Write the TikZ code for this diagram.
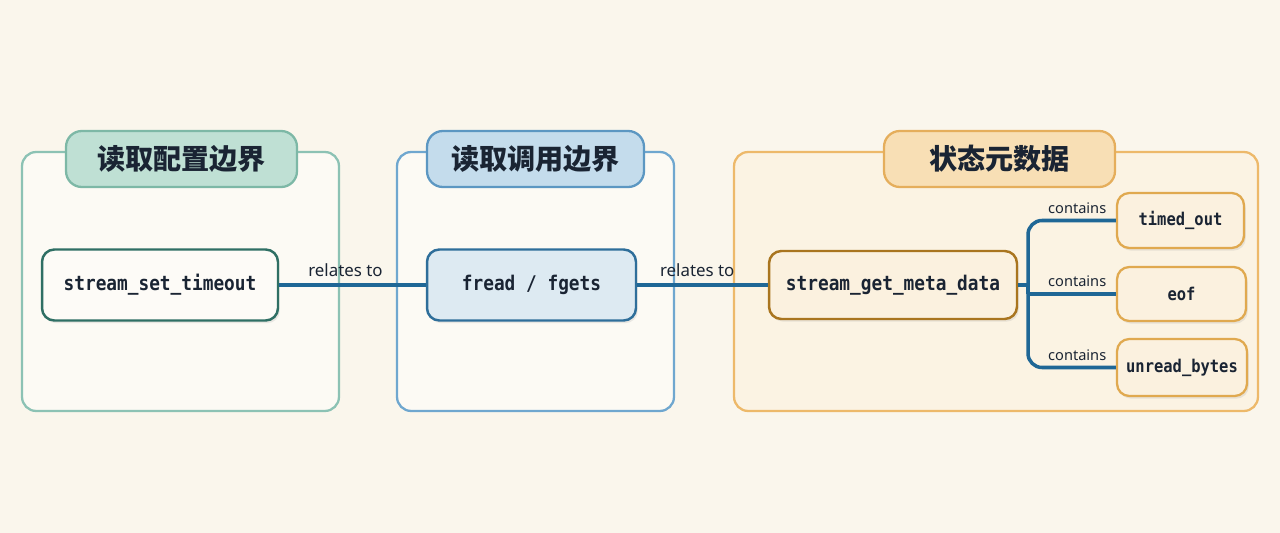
\documentclass[tikz,border=0pt]{standalone}
\usepackage{fontspec}
\setmainfont{Noto Sans}
\setmonofont{DejaVu Sans Mono}[FakeStretch=0.88]
\newfontfamily\cjk{Noto Sans CJK SC}
\usetikzlibrary{positioning, calc, shadows}

\definecolor{bgcream}{HTML}{FAF6EC}
\definecolor{inkdark}{HTML}{1A2433}
\definecolor{linkblue}{HTML}{1F6796}
\definecolor{tealframe}{HTML}{8CC2B4}
\definecolor{tealtab}{HTML}{BFE0D4}
\definecolor{tealtabline}{HTML}{7DB8A6}
\definecolor{tealnode}{HTML}{2F6F64}
\definecolor{blueframe}{HTML}{6FA7CF}
\definecolor{bluetab}{HTML}{C4DCEC}
\definecolor{bluetabline}{HTML}{5C97C2}
\definecolor{bluenode}{HTML}{2E6E9A}
\definecolor{bluefill}{HTML}{DDEAF2}
\definecolor{orangeframe}{HTML}{EDB96A}
\definecolor{orangetab}{HTML}{F8DFB5}
\definecolor{orangetabline}{HTML}{E5AE5C}
\definecolor{orangenode}{HTML}{A9751F}
\definecolor{orangefill}{HTML}{FBF1DF}
\definecolor{orangechild}{HTML}{E0A94F}

\begin{document}
\begin{tikzpicture}[
  x=0.02cm, y=-0.02cm,
  every node/.style={text=inkdark},
  frame/.style={draw, rounded corners=8pt, line width=1.3pt, minimum height=5.18cm},
  tab/.style={draw, rounded corners=9pt, line width=1.3pt, minimum height=1.12cm,
              font=\cjk\bfseries\fontsize{16}{18}\selectfont},
  func/.style={draw, rounded corners=7pt, line width=1.4pt, minimum height=1.42cm,
               font=\ttfamily\bfseries\fontsize{11.5}{13}\selectfont,
               drop shadow={opacity=0.15, shadow xshift=1pt, shadow yshift=-1.5pt}},
  field/.style={func, draw=orangechild, fill=orangefill, line width=1.3pt,
                minimum height=1.1cm, font=\ttfamily\bfseries\fontsize{10}{12}\selectfont},
  link/.style={draw=linkblue, line width=2pt},
  lbl/.style={font=\fontsize{9.6}{11}\selectfont, above, inner sep=4pt},
  sublbl/.style={font=\fontsize{8.3}{10}\selectfont, above, inner sep=3pt}
]
  \fill[bgcream] (0,0) rectangle (1280,533);
  \useasboundingbox (0,0) rectangle (1280,533);

  % groups
  \node[frame, draw=tealframe, fill=white!40!bgcream, minimum width=6.34cm] (cfg) at (180.5,281.5) {};
  \node[frame, draw=blueframe, fill=white!40!bgcream, minimum width=5.54cm] (call) at (535.5,281.5) {};
  \node[frame, draw=orangeframe, fill=orangefill!70!bgcream, minimum width=10.48cm] (meta) at (996,281.5) {};

  \node[tab, draw=tealtabline, fill=tealtab, minimum width=4.62cm] (cfgtab) at (181.5,159) {读取配置边界};
  \node[tab, draw=bluetabline, fill=bluetab, minimum width=4.34cm] (calltab) at (535.5,159) {读取调用边界};
  \node[tab, draw=orangetabline, fill=orangetab, minimum width=4.62cm] (metatab) at (999.5,159) {状态元数据};

  % functions
  \node[func, draw=tealnode, fill=white!60!bgcream, minimum width=4.72cm] (timeout) at (160,285) {stream\_set\_timeout};
  \node[func, draw=bluenode, fill=bluefill, minimum width=4.18cm] (fread) at (531.5,285) {fread / fgets};
  \node[func, draw=orangenode, fill=orangefill, minimum width=4.96cm, minimum height=1.36cm] (getmeta) at (893,285) {stream\_get\_meta\_data};

  % fields
  \node[field, minimum width=2.54cm] (timed) at (1180.5,220.5) {timed\_out};
  \node[field, minimum width=2.58cm, minimum height=1.08cm] (eof) at (1181.5,294) {eof};
  \node[field, minimum width=2.6cm, minimum height=1.14cm] (unread) at (1182,367.5) {unread\_bytes};

  % links
  \draw[link] (timeout) -- node[lbl, xshift=-4pt] {relates to} (fread);
  \draw[link] (fread) -- node[lbl, xshift=-3pt] {relates to} (getmeta);

  \coordinate (fork) at (1028,285);
  \draw[link] (getmeta) -- (fork);
  \draw[link, rounded corners=8pt] (fork) |- node[sublbl, pos=0.78] {contains} (timed.west);
  \draw[link] (fork |- eof.west) -- node[sublbl, pos=0.56] {contains} (eof.west);
  \draw[link] (fork) -- (fork |- eof.west);
  \draw[link, rounded corners=8pt] (fork) |- node[sublbl, pos=0.78] {contains} (unread.west);
\end{tikzpicture}
\end{document}
